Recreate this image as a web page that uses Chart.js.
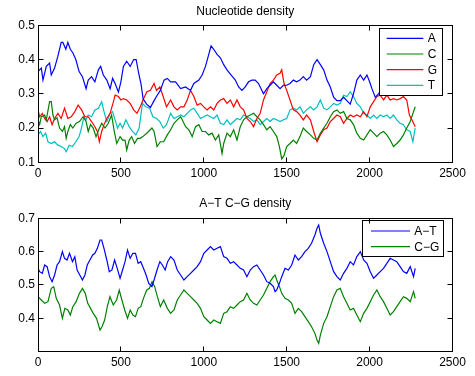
<!DOCTYPE html>
<html>
<head>
<meta charset="utf-8">
<script src="https://cdn.jsdelivr.net/npm/chart.js@4.4.1/dist/chart.umd.min.js"></script>
<style>
html,body{margin:0;padding:0;background:#fff;}
#wrap{position:relative;width:475px;height:376px;background:#fff;}
canvas{position:absolute;left:0;}
#c1{top:0;}
#c2{top:190px;}
</style>
</head>
<body>
<div id="wrap">
<canvas id="c1" width="475" height="190" style="width:475px;height:190px"></canvas>
<canvas id="c2" width="475" height="186" style="width:475px;height:186px"></canvas>
</div>
<script>
// ---------- titles and labels ----------
const topTitle = 'Nucleotide density';
const bottomTitle = 'A\u2212T C\u2212G density';
const topLabels = ['A', 'C', 'G', 'T'];
const bottomLabels = ['A\u2212T', 'C\u2212G'];
const xTickStep = 500;

// ---------- top plot series: [position, density] ----------
const seriesA = [[0,0.365],[20,0.375],[30,0.34],[50,0.38],[70,0.39],[80,0.355],[100,0.375],[120,0.41],[140,0.45],[150,0.45],[168,0.43],[180,0.45],[195,0.43],[210,0.42],[228,0.40],[248,0.365],[268,0.35],[290,0.315],[303,0.34],[323,0.35],[343,0.335],[364,0.37],[378,0.38],[394,0.355],[415,0.34],[435,0.315],[450,0.345],[465,0.33],[485,0.305],[500,0.335],[515,0.38],[535,0.395],[556,0.38],[577,0.40],[592,0.40],[607,0.36],[621,0.33],[634,0.285],[655,0.27],[678,0.26],[700,0.28],[718,0.295],[738,0.31],[760,0.34],[780,0.345],[800,0.335],[830,0.335],[860,0.315],[890,0.32],[920,0.31],[940,0.33],[970,0.34],[990,0.355],[1010,0.38],[1030,0.415],[1044,0.44],[1060,0.43],[1080,0.415],[1100,0.405],[1120,0.385],[1140,0.37],[1164,0.355],[1190,0.34],[1210,0.32],[1230,0.31],[1250,0.32],[1270,0.335],[1290,0.34],[1310,0.34],[1330,0.33],[1360,0.30],[1380,0.315],[1400,0.325],[1420,0.335],[1440,0.325],[1460,0.315],[1480,0.325],[1500,0.325],[1520,0.33],[1540,0.34],[1560,0.335],[1580,0.34],[1600,0.35],[1620,0.34],[1643,0.35],[1663,0.385],[1683,0.40],[1703,0.385],[1723,0.37],[1743,0.34],[1763,0.32],[1783,0.29],[1803,0.28],[1823,0.28],[1843,0.29],[1863,0.28],[1883,0.27],[1903,0.30],[1923,0.34],[1944,0.355],[1964,0.34],[1984,0.355],[2000,0.335],[2014,0.315],[2034,0.29],[2054,0.30],[2080,0.32],[2120,0.34],[2160,0.33],[2200,0.35],[2240,0.34],[2275,0.33]];

const seriesC = [[0,0.224],[10,0.21],[20,0.233],[40,0.238],[50,0.224],[70,0.277],[80,0.277],[90,0.238],[100,0.224],[115,0.23],[130,0.20],[147,0.19],[160,0.204],[170,0.17],[180,0.19],[195,0.21],[210,0.20],[230,0.214],[250,0.219],[272,0.233],[290,0.219],[303,0.19],[317,0.21],[333,0.20],[350,0.175],[366,0.195],[384,0.214],[404,0.20],[424,0.214],[444,0.238],[460,0.19],[475,0.155],[495,0.175],[510,0.165],[525,0.165],[535,0.136],[550,0.165],[565,0.175],[582,0.155],[600,0.17],[616,0.17],[632,0.175],[656,0.185],[687,0.20],[700,0.19],[718,0.146],[738,0.16],[758,0.16],[780,0.18],[800,0.195],[820,0.214],[840,0.224],[860,0.233],[870,0.224],[890,0.204],[910,0.195],[930,0.175],[950,0.204],[970,0.21],[990,0.19],[1010,0.19],[1030,0.18],[1050,0.185],[1070,0.165],[1090,0.18],[1110,0.126],[1120,0.155],[1140,0.185],[1160,0.175],[1180,0.195],[1200,0.165],[1220,0.204],[1240,0.224],[1260,0.233],[1280,0.238],[1300,0.243],[1320,0.233],[1340,0.224],[1360,0.21],[1380,0.195],[1400,0.204],[1420,0.19],[1440,0.175],[1456,0.146],[1470,0.11],[1484,0.12],[1500,0.146],[1520,0.155],[1540,0.165],[1560,0.155],[1580,0.175],[1600,0.20],[1620,0.19],[1643,0.18],[1663,0.17],[1683,0.165],[1703,0.185],[1723,0.20],[1743,0.214],[1763,0.233],[1783,0.248],[1803,0.253],[1823,0.243],[1843,0.248],[1863,0.228],[1883,0.224],[1903,0.21],[1923,0.185],[1944,0.17],[1964,0.165],[1984,0.18],[2004,0.195],[2024,0.185],[2044,0.175],[2064,0.185],[2084,0.19],[2104,0.18],[2124,0.165],[2144,0.146],[2164,0.155],[2184,0.165],[2204,0.18],[2224,0.20],[2245,0.219],[2265,0.248],[2275,0.262]];

const seriesG = [[0,0.253],[10,0.233],[26,0.243],[40,0.228],[55,0.219],[70,0.233],[85,0.21],[100,0.228],[120,0.243],[140,0.228],[160,0.258],[180,0.228],[200,0.233],[222,0.248],[242,0.267],[263,0.253],[283,0.233],[303,0.233],[323,0.219],[343,0.204],[358,0.19],[370,0.16],[384,0.19],[398,0.21],[415,0.228],[435,0.243],[455,0.277],[465,0.296],[485,0.292],[500,0.282],[515,0.286],[535,0.282],[556,0.272],[577,0.253],[597,0.243],[617,0.262],[637,0.286],[657,0.306],[678,0.31],[700,0.33],[715,0.31],[735,0.32],[755,0.292],[775,0.262],[800,0.282],[820,0.262],[840,0.253],[860,0.262],[880,0.262],[900,0.282],[920,0.31],[940,0.292],[960,0.267],[980,0.272],[1000,0.262],[1020,0.253],[1040,0.262],[1060,0.253],[1080,0.272],[1100,0.282],[1120,0.286],[1140,0.272],[1160,0.282],[1180,0.262],[1200,0.282],[1220,0.262],[1240,0.253],[1260,0.228],[1280,0.219],[1300,0.204],[1320,0.228],[1340,0.243],[1360,0.282],[1380,0.306],[1400,0.33],[1420,0.34],[1440,0.355],[1460,0.36],[1470,0.37],[1484,0.33],[1500,0.31],[1520,0.282],[1540,0.253],[1560,0.248],[1580,0.238],[1600,0.224],[1620,0.238],[1643,0.224],[1663,0.19],[1683,0.16],[1703,0.18],[1723,0.195],[1743,0.20],[1763,0.219],[1783,0.228],[1803,0.238],[1823,0.233],[1843,0.214],[1863,0.228],[1883,0.238],[1903,0.233],[1923,0.238],[1944,0.233],[1964,0.248],[1984,0.233],[2004,0.262],[2024,0.277],[2044,0.292],[2064,0.296],[2084,0.282],[2104,0.296],[2124,0.282],[2144,0.286],[2164,0.282],[2184,0.286],[2204,0.292],[2224,0.282],[2240,0.238],[2255,0.224],[2275,0.204]];

const seriesT = [[0,0.18],[15,0.19],[30,0.175],[46,0.185],[60,0.16],[80,0.155],[100,0.16],[120,0.15],[140,0.146],[160,0.14],[170,0.131],[188,0.15],[208,0.146],[228,0.16],[248,0.175],[262,0.20],[277,0.233],[290,0.224],[303,0.238],[323,0.233],[343,0.253],[364,0.258],[384,0.277],[398,0.248],[415,0.219],[435,0.243],[450,0.248],[465,0.224],[480,0.20],[495,0.214],[510,0.20],[530,0.224],[550,0.204],[570,0.19],[590,0.18],[610,0.20],[630,0.272],[650,0.262],[673,0.258],[693,0.233],[715,0.228],[735,0.219],[755,0.20],[775,0.21],[800,0.243],[820,0.228],[840,0.233],[860,0.238],[880,0.233],[900,0.243],[920,0.253],[940,0.258],[960,0.243],[980,0.228],[1000,0.233],[1020,0.238],[1040,0.233],[1060,0.228],[1080,0.238],[1100,0.214],[1120,0.21],[1140,0.224],[1160,0.21],[1180,0.219],[1200,0.228],[1220,0.224],[1240,0.238],[1260,0.233],[1280,0.228],[1300,0.219],[1320,0.224],[1340,0.21],[1360,0.219],[1380,0.228],[1400,0.219],[1420,0.228],[1440,0.224],[1460,0.219],[1480,0.224],[1500,0.228],[1520,0.253],[1540,0.258],[1560,0.253],[1580,0.262],[1600,0.243],[1620,0.253],[1643,0.262],[1663,0.253],[1683,0.262],[1703,0.282],[1723,0.258],[1743,0.253],[1763,0.262],[1783,0.272],[1803,0.267],[1823,0.272],[1843,0.296],[1863,0.292],[1883,0.306],[1903,0.292],[1923,0.272],[1944,0.262],[1964,0.243],[1984,0.238],[2004,0.228],[2024,0.238],[2044,0.228],[2064,0.238],[2084,0.233],[2104,0.238],[2124,0.228],[2144,0.238],[2164,0.224],[2184,0.214],[2204,0.21],[2224,0.195],[2245,0.19],[2261,0.16],[2275,0.20]];

// ---------- bottom plot series: [position, density] ----------
const seriesAT = [[0,0.55],[10,0.54],[26,0.535],[40,0.56],[55,0.555],[70,0.525],[85,0.51],[100,0.53],[115,0.56],[130,0.57],[147,0.60],[160,0.58],[175,0.575],[190,0.595],[208,0.57],[222,0.585],[236,0.545],[252,0.53],[268,0.515],[283,0.53],[297,0.56],[313,0.575],[330,0.59],[343,0.595],[358,0.61],[374,0.635],[384,0.635],[398,0.61],[415,0.575],[430,0.54],[446,0.545],[462,0.575],[478,0.55],[495,0.52],[510,0.545],[525,0.57],[540,0.605],[556,0.58],[572,0.595],[588,0.595],[604,0.565],[620,0.57],[636,0.55],[652,0.53],[668,0.505],[687,0.495],[700,0.515],[718,0.545],[735,0.57],[750,0.56],[767,0.545],[782,0.57],[800,0.585],[820,0.575],[840,0.545],[860,0.53],[880,0.515],[900,0.525],[920,0.535],[940,0.545],[960,0.555],[980,0.57],[1000,0.595],[1020,0.605],[1040,0.615],[1060,0.605],[1080,0.61],[1100,0.615],[1120,0.585],[1140,0.58],[1160,0.565],[1180,0.57],[1200,0.56],[1220,0.55],[1240,0.545],[1260,0.525],[1280,0.545],[1300,0.555],[1320,0.56],[1340,0.545],[1360,0.53],[1380,0.51],[1400,0.505],[1420,0.495],[1430,0.48],[1440,0.485],[1456,0.505],[1470,0.525],[1490,0.55],[1510,0.545],[1530,0.56],[1550,0.59],[1570,0.575],[1590,0.585],[1610,0.60],[1630,0.61],[1650,0.625],[1670,0.65],[1683,0.67],[1693,0.68],[1703,0.655],[1723,0.625],[1743,0.60],[1763,0.57],[1783,0.54],[1803,0.525],[1823,0.515],[1843,0.535],[1863,0.55],[1883,0.57],[1903,0.56],[1923,0.585],[1944,0.60],[1964,0.575],[1984,0.565],[2004,0.54],[2024,0.52],[2044,0.53],[2064,0.54],[2084,0.55],[2104,0.565],[2124,0.58],[2144,0.575],[2164,0.57],[2184,0.555],[2204,0.54],[2224,0.535],[2245,0.555],[2265,0.525],[2275,0.55]];

const seriesCG = [[0,0.465],[20,0.455],[40,0.445],[60,0.45],[80,0.49],[95,0.495],[110,0.46],[130,0.44],[147,0.40],[162,0.43],[180,0.425],[195,0.41],[210,0.435],[230,0.45],[250,0.475],[268,0.49],[285,0.475],[300,0.445],[317,0.43],[333,0.415],[353,0.40],[374,0.365],[386,0.375],[402,0.395],[418,0.435],[434,0.465],[454,0.44],[474,0.455],[490,0.485],[506,0.455],[523,0.425],[540,0.40],[556,0.425],[572,0.41],[588,0.405],[604,0.43],[620,0.435],[636,0.46],[656,0.485],[672,0.49],[688,0.51],[704,0.495],[720,0.465],[738,0.435],[758,0.455],[780,0.43],[800,0.415],[820,0.425],[840,0.455],[860,0.47],[880,0.485],[900,0.475],[920,0.465],[940,0.455],[960,0.445],[980,0.43],[1000,0.405],[1020,0.395],[1040,0.385],[1060,0.395],[1080,0.39],[1100,0.385],[1120,0.415],[1140,0.42],[1160,0.435],[1180,0.43],[1200,0.44],[1220,0.45],[1240,0.455],[1260,0.475],[1280,0.455],[1300,0.445],[1320,0.44],[1340,0.455],[1360,0.47],[1380,0.49],[1400,0.51],[1420,0.525],[1430,0.53],[1440,0.515],[1456,0.495],[1470,0.475],[1490,0.46],[1510,0.455],[1530,0.445],[1550,0.415],[1570,0.43],[1590,0.42],[1610,0.405],[1630,0.39],[1650,0.375],[1670,0.355],[1683,0.335],[1693,0.325],[1703,0.35],[1723,0.385],[1743,0.405],[1763,0.435],[1783,0.465],[1803,0.485],[1823,0.49],[1843,0.465],[1863,0.445],[1883,0.425],[1903,0.43],[1923,0.41],[1944,0.39],[1964,0.415],[1984,0.43],[2004,0.45],[2024,0.47],[2044,0.485],[2064,0.465],[2084,0.45],[2104,0.43],[2124,0.41],[2144,0.42],[2164,0.435],[2184,0.45],[2204,0.465],[2224,0.46],[2245,0.45],[2265,0.48],[2275,0.46]];

// ---------- styling ----------
const FONT_FAMILY = '"Liberation Sans", Arial, Helvetica, sans-serif';
const FONT = {family: FONT_FAMILY, size: 12, weight: 'normal'};
const TEXT = '#000';

const toPts = arr => arr.map(p => ({x: p[0], y: p[1]}));
const ds = (label, arr, color) => ({
  label, data: toPts(arr), borderColor: color, backgroundColor: color,
  borderWidth: 1.2, pointRadius: 0, tension: 0, fill: false
});

const crisp = v => Math.floor(v) + 0.5;

// MATLAB-style box, inward ticks and boxed legend
const matlabAxes = {
  id: 'matlabAxes',
  afterDatasetsDraw(chart, args, opts) {
    const ctx = chart.ctx;
    const a = chart.chartArea;
    const L = crisp(a.left), R = crisp(a.right), T = crisp(a.top), B = crisp(a.bottom);
    ctx.save();
    // legend
    const lg = opts.legend;
    const bx = a.right - lg.right - lg.width, by = a.top + lg.top;
    ctx.fillStyle = '#fff';
    ctx.fillRect(bx, by, lg.width, lg.height);
    ctx.strokeStyle = '#000';
    ctx.lineWidth = 1;
    ctx.strokeRect(crisp(bx), crisp(by), Math.round(lg.width), Math.round(lg.height));
    ctx.font = '12px ' + FONT_FAMILY;
    ctx.textBaseline = 'middle';
    ctx.textAlign = 'left';
    chart.data.datasets.forEach((d, i) => {
      const y = by + lg.firstRow + i * lg.rowH;
      ctx.strokeStyle = d.borderColor;
      ctx.lineWidth = 1.2;
      ctx.beginPath();
      ctx.moveTo(bx + lg.lineX0, y);
      ctx.lineTo(bx + lg.lineX1, y);
      ctx.stroke();
      ctx.fillStyle = TEXT;
      ctx.fillText(d.label, bx + lg.textX, y + 0.5);
    });
    // box
    ctx.strokeStyle = '#000';
    ctx.lineWidth = 1;
    ctx.strokeRect(L, T, R - L, B - T);
    // inward ticks
    const tl = 5;
    ctx.beginPath();
    const xs = chart.scales.x;
    xs.ticks.forEach(t => {
      const px = crisp(xs.getPixelForValue(t.value));
      if (px <= L + 1 || px >= R - 1) return;
      ctx.moveTo(px, B); ctx.lineTo(px, B - tl);
      ctx.moveTo(px, T); ctx.lineTo(px, T + tl);
    });
    const ys = chart.scales.y;
    ys.ticks.forEach(t => {
      const py = crisp(ys.getPixelForValue(t.value));
      if (py <= T + 1 || py >= B - 1) return;
      ctx.moveTo(L, py); ctx.lineTo(L + tl, py);
      ctx.moveTo(R, py); ctx.lineTo(R - tl, py);
    });
    ctx.stroke();
    ctx.restore();
  }
};

function makeChart(canvasId, title, titlePad, datasets, yMin, yMax, hideMin, xAxisH, legend) {
  const yTickCb = v => (hideMin && Math.abs(v - yMin) < 1e-9) ? '' : Number(v).toFixed(1);
  return new Chart(document.getElementById(canvasId), {
    type: 'line',
    data: {datasets},
    options: {
      responsive: false,
      animation: false,
      events: [],
      layout: {padding: {left: 16, right: 0.5, top: 0, bottom: 0}},
      plugins: {
        legend: {display: false},
        tooltip: {enabled: false},
        title: {display: true, text: title, color: TEXT, font: FONT, padding: titlePad},
        matlabAxes: {legend}
      },
      scales: {
        x: {
          type: 'linear', min: 0, max: 2500,
          ticks: {stepSize: xTickStep, color: TEXT, font: FONT, padding: 4, maxRotation: 0, autoSkip: false,
                  callback: v => String(v)},
          grid: {display: false, drawTicks: false},
          border: {display: false},
          afterFit(s) { s.height = xAxisH; }
        },
        y: {
          type: 'linear', min: yMin, max: yMax,
          ticks: {stepSize: 0.1, color: TEXT, font: FONT, padding: 3, callback: yTickCb},
          grid: {display: false, drawTicks: false},
          border: {display: false},
          afterFit(s) { s.width = 22; }
        },
        y2: {
          type: 'linear', position: 'right', min: yMin, max: yMax,
          ticks: {display: false},
          grid: {display: false, drawTicks: false},
          border: {display: false},
          afterFit(s) { s.width = 22; }
        }
      }
    },
    plugins: [matlabAxes]
  });
}

makeChart('c1', topTitle, {top: 4.5, bottom: 6.4}, [
  ds(topLabels[0], seriesA, '#0000ff'),
  ds(topLabels[1], seriesC, '#008000'),
  ds(topLabels[2], seriesG, '#ff0000'),
  ds(topLabels[3], seriesT, '#00bfbf')
], 0.1, 0.5, false, 27.7,
  {right: 9.8, top: 3, width: 63.4, height: 66.7, firstRow: 10, rowH: 15.7, lineX0: 7.4, lineX1: 44, textX: 48.4});

makeChart('c2', bottomTitle, {top: 6.8, bottom: 7.1}, [
  ds(bottomLabels[0], seriesAT, '#0000ff'),
  ds(bottomLabels[1], seriesCG, '#008000')
], 0.3, 0.7, true, 24.3,
  {right: 9.2, top: 2.4, width: 80.6, height: 36, firstRow: 10.3, rowH: 15.7, lineX0: 8.3, lineX1: 47.3, textX: 51.6});
</script>
</body>
</html>
